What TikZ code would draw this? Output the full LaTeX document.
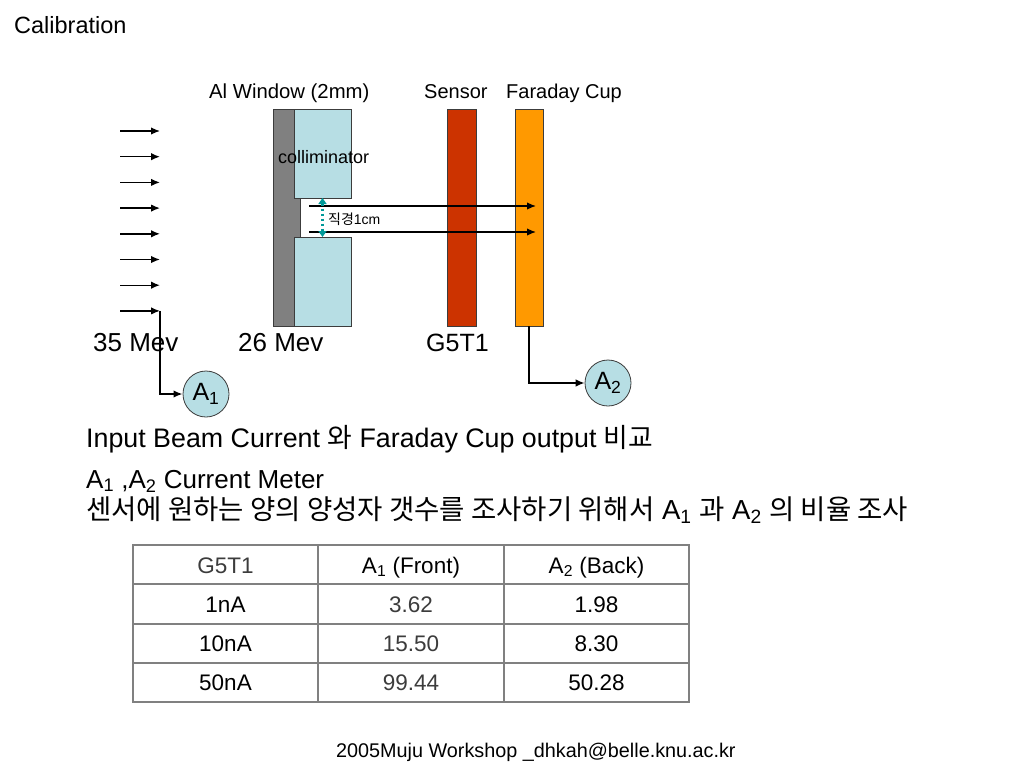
\documentclass[tikz,border=0pt]{standalone}
\usepackage{fontspec}
\setmainfont{Liberation Sans}
\newfontfamily\kr{Noto Sans CJK KR}
\usepackage{xcolor}
\usetikzlibrary{arrows.meta}
\definecolor{wingray}{RGB}{128,128,128}
\definecolor{colblue}{RGB}{183,222,228}
\definecolor{sensred}{RGB}{204,51,0}
\definecolor{cuporange}{RGB}{255,153,0}
\definecolor{edgegray}{RGB}{60,60,60}
\definecolor{gapteal}{RGB}{0,153,153}
\definecolor{tabgray}{RGB}{128,128,128}
\definecolor{softblack}{RGB}{60,60,60}
\newcommand{\fsz}[1]{\fontsize{#1}{#1}\selectfont}

\begin{document}
\begin{tikzpicture}[x=1pt,y=-1pt,
    lbl/.style={anchor=base west, inner sep=0pt},
    plate/.style={draw=edgegray, line width=0.8pt, inner sep=0pt, outer sep=0pt},
    conn/.style={line width=1.4pt, -{Latex[length=9pt,width=7.5pt]}},
    gapmark/.style={gapteal, line width=2.5pt, dash pattern=on 2.5pt off 2.5pt,
      {Triangle[length=6pt,width=8pt]}-{Triangle[length=6pt,width=8pt]}},
    meter/.style={circle, draw=edgegray, line width=0.8pt, fill=colblue,
      minimum size=46pt, inner sep=0pt, font=\fsz{25}},
    cell/.style={anchor=base, inner sep=0pt, font=\fsz{22.5}},
    tabline/.style={draw=tabgray, line width=1.2pt}]

  \fill[white] (0,0) rectangle (1024,768);
  \useasboundingbox (0,0) rectangle (1024,768);

  \node[lbl, font=\fsz{23.5}] (title) at (14,34) {Calibration};

  % window, collimator, sensor and cup
  \node[plate, fill=wingray, minimum width=27pt, minimum height=217pt] (alwin) at (286.5,217.5) {};
  \node[plate, fill=colblue, minimum width=57pt, minimum height=89pt] (coltop) at (322.5,153.5) {};
  \node[plate, fill=colblue, minimum width=57pt, minimum height=89pt] (colbot) at (322.5,281.5) {};
  \node[plate, fill=sensred, minimum width=29pt, minimum height=217pt] (sensor) at (461.5,217.5) {};
  \node[plate, fill=cuporange, minimum width=28pt, minimum height=217pt] (fcup) at (529,217.5) {};

  \node[lbl, font=\fsz{20.3}] (winlbl) at (209,98) {Al Window (2mm)};
  \node[lbl, font=\fsz{20}] (senslbl) at (424,98) {Sensor};
  \node[lbl, font=\fsz{20}] (cuplbl) at (506,98) {Faraday Cup};
  \node[lbl, font=\fsz{18}] (collbl) at (278,163) {colliminator};

  \node[lbl, font=\fsz{26}] (e35) at (93,351) {35 Mev};
  \node[lbl, font=\fsz{26}] (e26) at (238,351) {26 Mev};
  \node[lbl, font=\fsz{25}] (g5) at (426,351) {G5T1};

  % incoming beam
  \foreach \i in {1,...,8}
    \draw[conn] (120,{131+25.7*(\i-1)}) -- ++(40,0) coordinate (beam\i);

  % beam through the hole
  \coordinate (holeA) at (309,206);
  \coordinate (holeB) at (309,232);
  \coordinate (hitA) at (536,206);
  \coordinate (hitB) at (536,232);
  \draw[conn] (holeA) -- (hitA);
  \draw[conn] (holeB) -- (hitB);
  \draw[gapmark] (coltop.south) -- (colbot.north);
  \node[lbl, font=\fsz{14}] (gaplbl) at (328,224) {{\kr 직경}1cm};

  % current meters
  \node[meter] (ammA) at (206,394) {A\textsubscript{1}};
  \node[meter] (ammB) at (608,383) {A\textsubscript{2}};
  \draw[conn, line width=1.8pt] (beam8) |- (ammA);
  \draw[conn] (fcup.south) |- (ammB);

  \node[lbl, font=\fsz{26.8}] (line1) at (86,447)
    {Input Beam Current {\kr 와} Faraday Cup output {\kr 비교}};
  \node[lbl, font=\fsz{26}] (line2) at (86,488)
    {A\textsubscript{1} ,A\textsubscript{2} Current Meter};
  \node[lbl, font=\fsz{27.5}] (line3) at (86,519)
    {{\kr 센서에 원하는 양의 양성자 갯수를 조사하기 위해서} A\textsubscript{1} {\kr 과} A\textsubscript{2} {\kr 의 비율 조사}};

  % table
  \draw[tabline] (133,545) rectangle (689,702);
  \foreach \y in {584,624,663}
    \draw[tabline] (133,\y) -- (689,\y);
  \foreach \x in {318,504}
    \draw[tabline] (\x,545) -- (\x,702);

  \node[cell, text=softblack] (hd1) at (225.5,573) {G5T1};
  \node[cell] (hd2) at (411,573) {A\textsubscript{1} (Front)};
  \node[cell] (hd3) at (596.5,573) {A\textsubscript{2} (Back)};
  \foreach \y/\cur/\front/\back [count=\r] in {612/1nA/3.62/1.98, 651/10nA/15.50/8.30, 690/50nA/99.44/50.28} {
    \node[cell] (cur\r) at (225.5,\y) {\cur};
    \node[cell, text=softblack] (front\r) at (411,\y) {\front};
    \node[cell] (back\r) at (596.5,\y) {\back};
  }

  \node[lbl, font=\fsz{19.8}] (foot) at (336,757) {2005Muju Workshop \_dhkah@belle.knu.ac.kr};
\end{tikzpicture}
\end{document}
